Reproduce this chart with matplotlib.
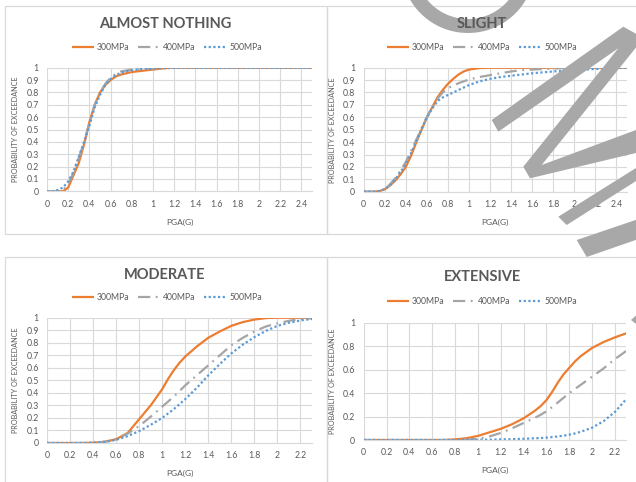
import numpy as np
import matplotlib
matplotlib.use("Agg")
import matplotlib.pyplot as plt
from matplotlib.patches import Polygon, Rectangle

plt.rcParams['font.family'] = ['Lato', 'DejaVu Sans']

# ---------------- data ----------------
series_names = ["300MPa", "400MPa", "500MPa"]

titles = ["ALMOST NOTHING", "SLIGHT", "MODERATE", "EXTENSIVE"]

# Almost nothing
an_x = [0, 0.05, 0.1, 0.15, 0.2, 0.25, 0.3, 0.35, 0.4, 0.45, 0.5, 0.55, 0.6, 0.65,
        0.7, 0.8, 0.9, 1.0, 1.1, 1.2, 1.4, 1.6, 1.8, 2.0, 2.2, 2.4, 2.5]
an_300 = [0, 0, 0, 0, 0.03, 0.13, 0.23, 0.38, 0.56, 0.7, 0.8, 0.86, 0.9, 0.93,
          0.945, 0.965, 0.975, 0.985, 0.995, 1, 1, 1, 1, 1, 1, 1, 1]
an_400 = [0, 0, 0, 0.01, 0.06, 0.15, 0.27, 0.4, 0.55, 0.7, 0.8, 0.87, 0.92, 0.95,
          0.97, 0.985, 0.99, 0.995, 0.998, 1, 1, 1, 1, 1, 1, 1, 1]
an_500 = [0, 0, 0.01, 0.03, 0.08, 0.16, 0.28, 0.4, 0.53, 0.68, 0.78, 0.86, 0.91, 0.94,
          0.96, 0.98, 0.99, 0.995, 0.998, 1, 1, 1, 1, 1, 1, 1, 1]

# Slight
sl_x = [0, 0.05, 0.1, 0.15, 0.2, 0.25, 0.3, 0.35, 0.4, 0.45, 0.5, 0.55, 0.6, 0.65,
        0.7, 0.75, 0.8, 0.85, 0.9, 0.95, 1.0, 1.1, 1.2, 1.3, 1.4, 1.5, 1.6, 1.8,
        2.0, 2.2, 2.4, 2.5]
sl_300 = [0, 0, 0, 0.005, 0.02, 0.05, 0.09, 0.14, 0.2, 0.29, 0.4, 0.5, 0.6, 0.68,
          0.76, 0.82, 0.87, 0.91, 0.945, 0.97, 0.985, 0.997, 1, 1, 1, 1, 1, 1,
          1, 1, 1, 1]
sl_400 = [0, 0, 0, 0.005, 0.02, 0.06, 0.11, 0.17, 0.24, 0.33, 0.42, 0.51, 0.6, 0.68,
          0.75, 0.8, 0.835, 0.855, 0.875, 0.89, 0.905, 0.925, 0.94, 0.955, 0.97, 0.98,
          0.985, 0.993, 1, 1, 1, 1]
sl_500 = [0, 0, 0, 0.005, 0.02, 0.05, 0.1, 0.16, 0.22, 0.31, 0.41, 0.51, 0.6, 0.67,
          0.73, 0.76, 0.78, 0.8, 0.82, 0.84, 0.86, 0.89, 0.91, 0.925, 0.935, 0.945,
          0.955, 0.97, 0.98, 0.99, 0.998, 1]

# Moderate
mo_x = [0, 0.1, 0.2, 0.3, 0.4, 0.5, 0.6, 0.7, 0.8, 0.9, 1.0, 1.05, 1.1, 1.15, 1.2,
        1.3, 1.4, 1.5, 1.6, 1.7, 1.8, 1.9, 2.0, 2.1, 2.2, 2.3]
mo_300 = [0, 0, 0, 0, 0.002, 0.01, 0.03, 0.08, 0.19, 0.3, 0.43, 0.51, 0.58, 0.64, 0.69,
          0.77, 0.84, 0.89, 0.935, 0.965, 0.985, 0.997, 1, 1, 1, 1]
mo_400 = [0, 0, 0, 0, 0.002, 0.01, 0.03, 0.075, 0.135, 0.21, 0.29, 0.33, 0.37, 0.415,
          0.46, 0.54, 0.62, 0.7, 0.78, 0.84, 0.89, 0.93, 0.955, 0.975, 0.99, 0.995]
mo_500 = [0, 0, 0, 0, 0.002, 0.008, 0.025, 0.055, 0.095, 0.145, 0.2, 0.235, 0.27, 0.31,
          0.35, 0.44, 0.54, 0.63, 0.715, 0.785, 0.845, 0.895, 0.935, 0.96, 0.978, 0.99]

# Extensive
ex_x = [0, 0.1, 0.2, 0.3, 0.4, 0.5, 0.6, 0.7, 0.8, 0.9, 1.0, 1.1, 1.2, 1.3, 1.4,
        1.5, 1.55, 1.6, 1.65, 1.7, 1.75, 1.8, 1.85, 1.9, 2.0, 2.1, 2.2, 2.3]
ex_300 = [0, 0, 0, 0, 0, 0, 0, 0, 0.005, 0.015, 0.035, 0.065, 0.095, 0.135, 0.185,
          0.25, 0.29, 0.34, 0.41, 0.49, 0.56, 0.615, 0.67, 0.715, 0.785, 0.835, 0.875, 0.91]
ex_400 = [0, 0, 0, 0, 0, 0, 0, 0, 0, 0.003, 0.01, 0.03, 0.06, 0.1, 0.145, 0.19,
          0.215, 0.245, 0.28, 0.32, 0.36, 0.4, 0.435, 0.47, 0.54, 0.61, 0.69, 0.76]
ex_500 = [0, 0, 0, 0, 0, 0, 0, 0, 0, 0, 0.002, 0.003, 0.005, 0.007, 0.01, 0.015,
          0.017, 0.02, 0.025, 0.03, 0.037, 0.045, 0.056, 0.07, 0.105, 0.16, 0.24, 0.35]

# ---------------- styling ----------------
W, H = 636, 482
colors = ["#ED7D31", "#A5A5A5", "#5B9BD5"]
styles = ["-", (0, (5.5, 2.5, 0.8, 2.5)), (0, (1, 1.1))]
text_c = "#595959"
grid_c = "#D9D9D9"

fig = plt.figure(figsize=(W / 100, H / 100), dpi=100)
fig.patch.set_facecolor("white")


def fpos(l, r, t, b):
    return [l / W, 1 - b / H, (r - l) / W, (b - t) / H]


panels = [
    dict(title=titles[0], x=an_x, ys=[an_300, an_400, an_500], box=(47, 312, 67.7, 191.3),
         xlim=2.5, xt=np.arange(0, 2.41, 0.2), yt=np.arange(0, 1.01, 0.1),
         tx=165, ty=24, lx=167, ly=48, border=(4.5, 326.5, 6, 233.5)),
    dict(title=titles[1], x=sl_x, ys=[sl_300, sl_400, sl_500], box=(363.7, 627, 67.7, 191.7),
         xlim=2.5, xt=np.arange(0, 2.41, 0.2), yt=np.arange(0, 1.01, 0.1),
         tx=482, ty=24, lx=482, ly=48, border=(326.5, 640, 6, 233.5)),
    dict(title=titles[2], x=mo_x, ys=[mo_300, mo_400, mo_500], box=(47, 312, 317.7, 443),
         xlim=2.3, xt=np.arange(0, 2.21, 0.2), yt=np.arange(0, 1.01, 0.1),
         tx=165, ty=275, lx=167, ly=298, border=(4.5, 326.5, 257.3, 490)),
    dict(title=titles[3], x=ex_x, ys=[ex_300, ex_400, ex_500], box=(363.7, 626.4, 322.7, 440),
         xlim=2.3, xt=np.arange(0, 2.21, 0.2), yt=np.arange(0, 1.01, 0.2),
         tx=482, ty=277, lx=482, ly=302, border=(326.5, 640, 257.3, 490)),
]


def fmt(v):
    s = f"{v:.1f}"
    if s.endswith(".0"):
        s = s[:-2]
    return s


for p in panels:
    bl, br, bt, bb = p["border"]
    fig.patches.append(Rectangle((bl / W, 1 - bb / H), (br - bl) / W, (bb - bt) / H,
                                 transform=fig.transFigure, fill=False,
                                 edgecolor=grid_c, linewidth=0.9, zorder=0))
    ax = fig.add_axes(fpos(*p["box"]))
    handles = []
    for ys, c, ls, name in zip(p["ys"], colors, styles, series_names):
        h, = ax.plot(p["x"], ys, color=c, linestyle=ls, linewidth=1.6,
                     label=name, solid_capstyle="butt", solid_joinstyle="round")
        handles.append(h)
    ax.set_xlim(0, p["xlim"])
    ax.set_ylim(0, 1)
    ax.set_xticks(p["xt"])
    ax.set_xticklabels([fmt(v) for v in p["xt"]])
    ax.set_yticks(p["yt"])
    ax.set_yticklabels([fmt(v) for v in p["yt"]])
    ax.tick_params(length=0, labelsize=6.3, labelcolor=text_c, pad=6)
    ax.grid(True, color=grid_c, linewidth=0.8)
    ax.set_axisbelow(True)
    for s in ["top", "right", "left"]:
        ax.spines[s].set_visible(False)
    ax.spines["bottom"].set_color(grid_c)
    ax.spines["bottom"].set_linewidth(0.8)
    ax.set_xlabel("PGA(G)", fontsize=6, color=text_c, labelpad=7)
    ax.set_ylabel("PROBABILITY OF EXCEEDANCE", fontsize=5.2, color=text_c, labelpad=5)
    fig.text(p["tx"] / W, 1 - p["ty"] / H, p["title"], ha="center", va="center",
             fontsize=10.5, fontweight="bold", color=text_c, zorder=20)
    leg = ax.legend(handles=handles, ncol=3, loc="center",
                    bbox_to_anchor=(p["lx"] / W, 1 - p["ly"] / H),
                    bbox_transform=fig.transFigure, frameon=False, fontsize=6.2,
                    handlelength=2.6, handletextpad=0.3, columnspacing=1.0,
                    labelcolor=text_c)

# ---------------- watermark (grey strokes over the page) ----------------
wm_c = "#A8A8A8"


def add_poly(pts):
    pts = np.asarray(pts, dtype=float)
    fpts = np.column_stack([pts[:, 0] / W, 1 - pts[:, 1] / H])
    fig.patches.append(Polygon(fpts, closed=True, transform=fig.transFigure,
                               facecolor=wm_c, edgecolor="none", zorder=10))


th = np.linspace(0, np.pi, 120)
cx, cy, r_out, r_in = 468, -34, 67, 53
ring = np.concatenate([np.column_stack([cx + r_out * np.cos(th), cy + r_out * np.sin(th)]),
                       np.column_stack([cx + r_in * np.cos(th[::-1]), cy + r_in * np.sin(th[::-1])])])
add_poly(ring)
add_poly([(491.7, 120), (623.3, 26.7), (640, 36), (640, 42.5), (541.7, 165), (640, 128.5),
          (640, 152), (530, 178.3), (523.3, 166.7), (618.3, 48.3), (498.3, 131.7)])
add_poly([(558.3, 216.7), (640, 165.5), (640, 178.5), (566.7, 225)])
add_poly([(576.7, 240), (640, 218.5), (640, 238.5), (586.7, 257)])
add_poly([(640, 312), (640, 327), (631, 320)])

fig.savefig("out.png", dpi=100)
